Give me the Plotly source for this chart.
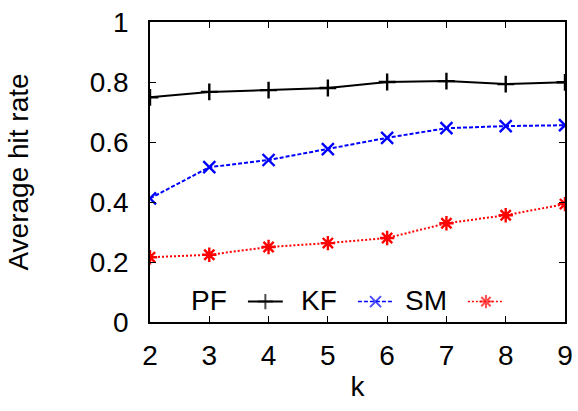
import plotly.graph_objects as go

k = [2, 3, 4, 5, 6, 7, 8, 9]
pf = [0.749, 0.767, 0.773, 0.780, 0.800, 0.803, 0.793, 0.799]
kf = [0.412, 0.516, 0.540, 0.576, 0.614, 0.646, 0.653, 0.656]
sm = [0.216, 0.224, 0.250, 0.263, 0.280, 0.329, 0.356, 0.393]
names = ["PF", "KF", "SM"]
colors = ["#000000", "#0000ff", "#ff0000"]
symbols = ["cross-thin-open", "x-thin-open", "asterisk-open"]
dashes = ["solid", "4px,2px", "2px,2px"]

FONT = "Liberation Sans, Arial, sans-serif"
fig = go.Figure()
for ys, c, s, d in zip([pf, kf, sm], colors, symbols, dashes):
    fig.add_trace(go.Scatter(
        x=k, y=ys, mode="lines+markers",
        line=dict(color=c, width=2, dash=d),
        marker=dict(symbol=s, size=12, color=c, line=dict(color=c, width=2.4)),
        showlegend=False, xaxis="x", yaxis="y"))

# manual legend (text left of sample), drawn on a hidden overlay axis in [0,1]
txt_x = [0.142, 0.408, 0.664]
samp = [(0.236, 0.320), (0.501, 0.586), (0.766, 0.853)]
ly = 0.068
for n, c, s, d, tx, (a, b) in zip(names, colors, symbols, dashes, txt_x, samp):
    fig.add_trace(go.Scatter(
        x=[a, (a + b) / 2, b], y=[ly, ly, ly], mode="lines+markers",
        line=dict(color=c, width=1.5 if n != "PF" else 2, dash=d),
        marker=dict(symbol=s, size=[0, 11, 0], color=c, line=dict(color=c, width=2)),
        showlegend=False, xaxis="x2", yaxis="y2", hoverinfo="skip"))
    fig.add_annotation(x=tx, y=ly + 0.005, xref="x2", yref="y2", text=n,
                       showarrow=False, font=dict(size=28, color="black", family=FONT),
                       xanchor="center", yanchor="middle")

axis_common = dict(showline=True, linecolor="black", linewidth=1.5, mirror="ticks",
                   ticks="inside", ticklen=6, tickwidth=1.2, tickcolor="black",
                   showgrid=False, zeroline=False, automargin=False,
                   tickfont=dict(size=28, color="black", family=FONT))
fig.update_layout(
    width=578, height=411,
    margin=dict(l=150, r=13, t=22, b=89),
    plot_bgcolor="white", paper_bgcolor="white",
    font=dict(family=FONT, color="black"),
    xaxis=dict(range=[2, 9], tickvals=k, ticklabelstandoff=8,
               title=dict(text="k", font=dict(size=28), standoff=6), **axis_common),
    yaxis=dict(range=[0, 1], tickvals=[0, 0.2, 0.4, 0.6, 0.8, 1],
               ticktext=["0", "0.2", "0.4", "0.6", "0.8", "1"], ticklabelstandoff=14,
               title=dict(text="Average hit rate", font=dict(size=28), standoff=53), **axis_common),
    xaxis2=dict(range=[0, 1], overlaying="x", visible=False, anchor="y2"),
    yaxis2=dict(range=[0, 1], overlaying="y", visible=False, anchor="x2"),
)
fig.write_html("out.html")
